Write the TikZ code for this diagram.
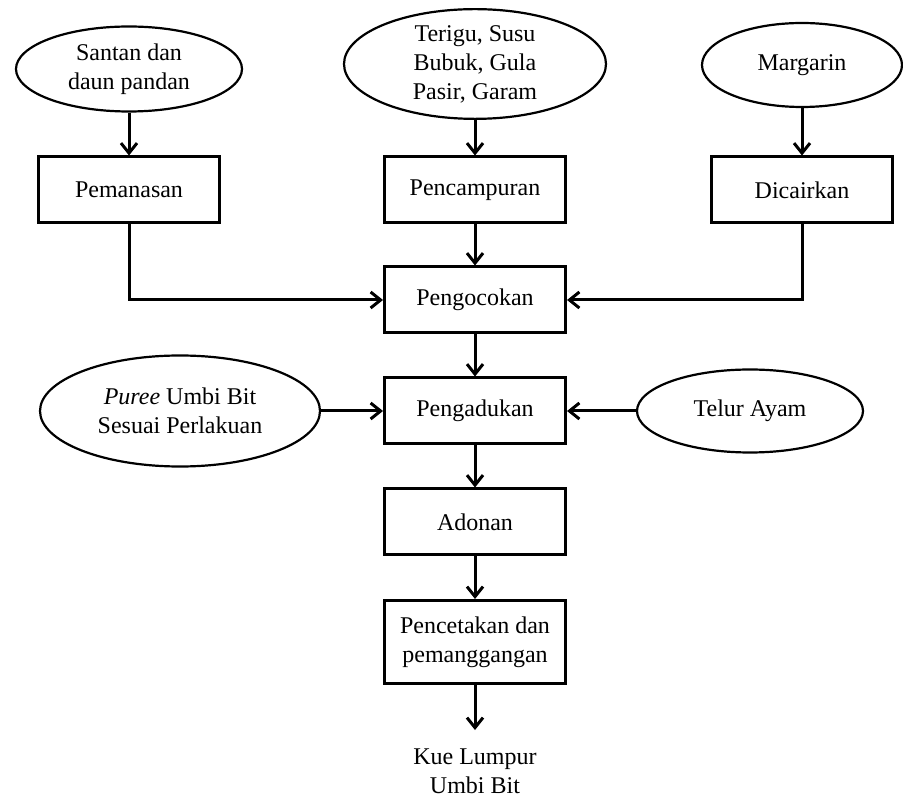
\documentclass[tikz,border=0pt]{standalone}
\usepackage{fontspec}
\setmainfont{Liberation Serif}
\usetikzlibrary{shapes,arrows,arrows.meta,positioning}

\begin{document}
\begin{tikzpicture}[x=1pt,y=1pt,on grid,line width=3pt,
    >={Straight Barb[length=10pt,width=16pt]},
    font=\fontsize{24}{29}\selectfont,
    proses/.style={draw,rectangle,minimum width=181pt,minimum height=66pt,align=center,inner sep=2pt},
    bahan/.style={draw,ellipse,line width=2.2pt,align=center,inner sep=0pt}]
      \useasboundingbox (0,0) rectangle (903,-799);

      % jalur utama
      \node[proses] (pencampuran) at (475,-190) {Pencampuran};
      \node[proses] (pengocokan) [below=110pt of pencampuran] {Pengocokan};
      \node[proses] (pengadukan) [below=111pt of pengocokan] {Pengadukan};
      \node[proses] (adonan) [below=111pt of pengadukan] {Adonan};
      \node[proses,minimum height=83pt] (pencetakan) [below=120pt of adonan] {Pencetakan dan\\pemanggangan};
      \node[align=center,inner ysep=17pt] (kue) [below=129pt of pencetakan] {Kue Lumpur\\Umbi Bit};

      % cabang kiri dan kanan
      \node[proses] (pemanasan) [left=346pt of pencampuran] {Pemanasan};
      \node[proses] (dicairkan) [right=327pt of pencampuran] {Dicairkan};

      % bahan
      \node[bahan,minimum width=262pt,minimum height=108pt] (terigu) [above=126pt of pencampuran] {Terigu, Susu\\Bubuk, Gula\\Pasir, Garam};
      \node[bahan,minimum width=226pt,minimum height=85pt] (santan) [above=121pt of pemanasan] {Santan dan\\daun pandan};
      \node[bahan,minimum width=200pt,minimum height=84pt] (margarin) [above=125pt of dicairkan] {Margarin};
      \node[bahan,minimum width=280pt,minimum height=111pt] (puree) [left=295pt of pengadukan] {\textit{Puree} Umbi Bit\\Sesuai Perlakuan};
      \node[bahan,minimum width=226pt,minimum height=83pt] (telur) [right=275pt of pengadukan] {Telur Ayam};

      \path[->] (santan) edge (pemanasan);
      \path[->] (terigu) edge (pencampuran);
      \path[->] (margarin) edge (dicairkan);
      \path[->] (pencampuran) edge (pengocokan);
      \draw[->] (pemanasan) |- (pengocokan);
      \draw[->] (dicairkan) |- (pengocokan);
      \path[->] (pengocokan) edge (pengadukan);
      \path[->] (puree) edge (pengadukan);
      \path[->] (telur) edge (pengadukan);
      \path[->] (pengadukan) edge (adonan);
      \path[->] (adonan) edge (pencetakan);
      \path[->] (pencetakan) edge (kue);
    \end{tikzpicture}
\end{document}
